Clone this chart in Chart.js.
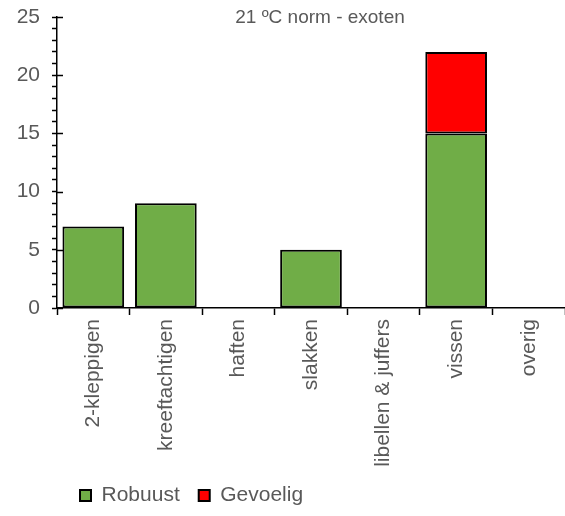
<!DOCTYPE html>
<html>
<head>
<meta charset="utf-8">
<script src="https://cdn.jsdelivr.net/npm/chart.js@4"></script>
<style>
  html, body { margin: 0; padding: 0; background: #fff; }
  #wrap { width: 565px; height: 516px; }
</style>
</head>
<body>
<div id="wrap"><canvas id="myChart"></canvas></div>
<script>
// Data
var categories = ['2-kleppigen', 'kreeftachtigen', 'haften', 'slakken', 'libellen & juffers', 'vissen', 'overig'];
var robuust = [7, 9, 0, 5, 0, 15, 0];
var gevoelig = [0, 0, 0, 0, 0, 7, 0];
var titleText = '21 \u00baC norm - exoten';

var textColor = '#595959';
var fontFamily = '"Liberation Sans", Arial, Helvetica, sans-serif';

// title drawn over the top of the plot
var titlePlugin = {
  id: 'topTitle',
  afterDraw: function (chart) {
    var c = chart.ctx, a = chart.chartArea;
    c.save();
    c.font = '19px ' + fontFamily;
    c.fillStyle = textColor;
    c.textAlign = 'center';
    c.textBaseline = 'middle';
    c.fillText(titleText, (a.left + a.right) / 2 + 9, 18);
    c.restore();
  }
};

// major y ticks cross the axis line
var crossTicks = {
  id: 'crossTicks',
  afterLayout: function (chart) {
    // nudge the legend a little to the right
    chart.legend.left += 4;
    chart.legend.right += 4;
  },
  afterDraw: function (chart) {
    var c = chart.ctx, y = chart.scales.y;
    c.save();
    c.strokeStyle = '#000';
    c.lineWidth = 1.5;
    for (var v = 0; v <= 25; v += 5) {
      var py = Math.round(y.getPixelForValue(v)) + 0.5;
      c.beginPath();
      c.moveTo(y.right, py);
      c.lineTo(y.right + 6, py);
      c.stroke();
    }
    c.restore();
  }
};

const ctx = document.getElementById('myChart');
var chart = new Chart(ctx, {
  type: 'bar',
  data: {
    labels: categories,
    datasets: [{
      label: 'Robuust',
      data: robuust,
      backgroundColor: '#70AD47',
      borderColor: '#000',
      borderWidth: 2,
      borderSkipped: false
    }, {
      label: 'Gevoelig',
      data: gevoelig,
      backgroundColor: '#FF0000',
      borderColor: '#000',
      borderWidth: 2,
      borderSkipped: false
    }]
  },
  options: {
    responsive: true,
    maintainAspectRatio: false,
    animation: false,
    layout: { padding: { top: 17, right: 0, left: 0, bottom: 0 } },
    datasets: { bar: { categoryPercentage: 1, barPercentage: 0.85 } },
    scales: {
      x: {
        stacked: true,
        grid: { drawOnChartArea: false, offset: true, tickLength: 7, color: '#000', tickWidth: 1.5 },
        border: { color: '#000', width: 1.5 },
        ticks: {
          color: textColor, font: { family: fontFamily, size: 21 },
          minRotation: 90, maxRotation: 90, autoSkip: false, padding: 4
        },
        afterFit: function (scale) { scale.height = 158; }
      },
      y: {
        stacked: true,
        min: 0, max: 25,
        grid: { drawOnChartArea: false, tickLength: 5, color: '#000', tickWidth: 1.5 },
        border: { color: '#000', width: 1.5 },
        ticks: {
          stepSize: 1, autoSkip: false, padding: 12,
          color: textColor, font: { family: fontFamily, size: 21 },
          callback: function (v) { return v % 5 === 0 ? v : ''; }
        },
        afterFit: function (scale) {
          scale.width = 57;
          scale.paddingTop = 0;
          scale.paddingBottom = 0;
        }
      }
    },
    plugins: {
      legend: {
        position: 'bottom',
        align: 'start',
        fullSize: false,
        labels: {
          boxWidth: 11, boxHeight: 11, padding: 19,
          color: textColor, font: { family: fontFamily, size: 21 }
        }
      },
      title: { display: false },
      tooltip: { enabled: false }
    }
  },
  plugins: [titlePlugin, crossTicks]
});
</script>
</body>
</html>
